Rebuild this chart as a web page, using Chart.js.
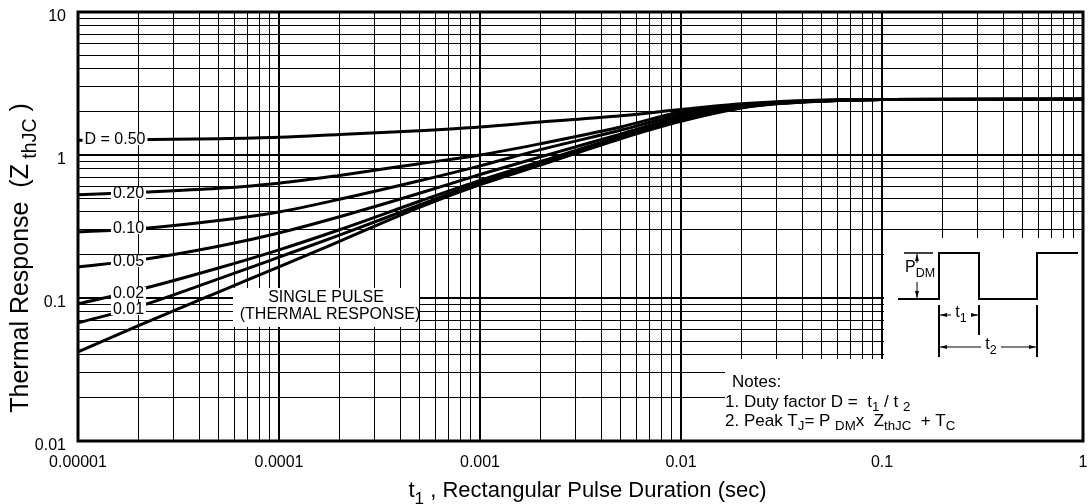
<!DOCTYPE html>
<html><head><meta charset="utf-8">
<script src="https://cdn.jsdelivr.net/npm/chart.js@4.4.0/dist/chart.umd.min.js"></script>
<style>html,body{margin:0;padding:0;background:#fff;}#wrap{width:1089px;height:504px;}</style>
</head><body><div id="wrap"><canvas id="c" width="1089" height="504"></canvas></div>
<script>
// ---- data ----
const durations = [1e-5,2e-5,5e-5,1e-4,2e-4,5e-4,1e-3,2e-3,5e-3,1e-2,2e-2,3e-2,5e-2,1e-1,1];
const d050   = [1.27,1.28,1.30,1.33,1.39,1.48,1.57,1.70,1.88,2.08,2.28,2.36,2.41,2.44,2.45];
const d020   = [0.527,0.548,0.585,0.635,0.72,0.87,1.00,1.20,1.57,2.00,2.24,2.34,2.41,2.44,2.45];
const d010   = [0.290,0.305,0.348,0.40,0.49,0.66,0.84,1.09,1.49,1.92,2.20,2.32,2.40,2.44,2.45];
const d005   = [0.165,0.184,0.230,0.285,0.37,0.54,0.73,0.97,1.40,1.85,2.18,2.31,2.39,2.44,2.45];
const d002   = [0.091,0.114,0.162,0.217,0.30,0.475,0.665,0.90,1.35,1.79,2.16,2.30,2.39,2.44,2.45];
const d001   = [0.067,0.087,0.136,0.193,0.275,0.447,0.64,0.87,1.32,1.76,2.15,2.29,2.38,2.44,2.45];
const single = [0.042,0.064,0.110,0.165,0.249,0.43,0.62,0.85,1.30,1.72,2.13,2.28,2.38,2.44,2.45];
const seriesNames = ['D = 0.50','0.20','0.10','0.05','0.02','0.01','SINGLE PULSE'];
const seriesValues = [d050,d020,d010,d005,d002,d001,single];
const xTickValues = [1e-5,1e-4,1e-3,1e-2,1e-1,1];
const xTickLabels = ['0.00001','0.0001','0.001','0.01','0.1','1'];
const yTickValues = [0.01,0.1,1,10];
const yTickLabels = ['0.01','0.1','1','10'];

const FONT = '"Liberation Sans", Arial, Helvetica, sans-serif';
function isDecade(v){const l=Math.log10(v);return Math.abs(l-Math.round(l))<1e-6;}
function gridValues(lo,hi){const out=[];for(let e=lo;e<hi;e++){for(let m=1;m<10;m++)out.push(m*Math.pow(10,e));}out.push(Math.pow(10,hi));return out;}
const xGrid = gridValues(-5,0);
const yGrid = gridValues(-2,1);

function runs(ctx, parts, x, y, size, align){
  let total=0;
  const ws=parts.map(p=>{ctx.font=(p[1]?size*0.78:size)+'px '+FONT;const w=ctx.measureText(p[0]).width;total+=w;return w;});
  let cx = align==='center'? x-total/2 : x;
  ctx.textAlign='left';
  parts.forEach((p,i)=>{ctx.font=(p[1]?size*0.78:size)+'px '+FONT;ctx.fillText(p[0],cx,y+(p[1]?size*0.32:0));cx+=ws[i];});
  return total;
}

const decor = {
  id:'decor',
  beforeDatasetsDraw(chart){
    const c=chart.ctx, ca=chart.chartArea;
    const X=px=>ca.left+(px-78)*ca.width/1005, Y=py=>ca.top+(py-12)*ca.height/429;
    c.save();
    c.fillStyle='#fff';
    c.fillRect(X(233),Y(288),X(419)-X(233),Y(327)-Y(288));
    c.fillRect(X(884),Y(238),ca.right-X(884),Y(359)-Y(238));
    c.fillRect(X(725),Y(359),ca.right-X(725),ca.bottom-Y(359));
    c.fillStyle='#000';
    c.textBaseline='middle';c.textAlign='center';
    c.font='16px '+FONT;
    c.fillText('SINGLE PULSE',X(326),Y(298));
    c.fillText('(THERMAL RESPONSE)',X(330),Y(315));
    c.textBaseline='middle';
    runs(c,[['Notes:',0]],X(732),Y(382),17,'left');
    runs(c,[['1. Duty factor D =  t',0],['1',1],[' / t ',0],['2',1]],X(725),Y(402),17,'left');
    runs(c,[['2. Peak T',0],['J',1],['= P ',0],['DM',1],['x  Z',0],['thJC',1],['  + T',0],['C',1]],X(725),Y(421),17,'left');
    c.strokeStyle='#000';c.lineWidth=2;
    c.beginPath();
    c.moveTo(X(898),Y(299));c.lineTo(X(939),Y(299));c.lineTo(X(939),Y(253));c.lineTo(X(979),Y(253));
    c.lineTo(X(979),Y(299));c.lineTo(X(1037),Y(299));c.lineTo(X(1037),Y(253));c.lineTo(X(1078),Y(253));
    c.stroke();
    c.lineWidth=1.5;
    c.beginPath();c.moveTo(X(904),Y(253));c.lineTo(X(933),Y(253));c.stroke();
    c.lineWidth=2;
    c.beginPath();
    c.moveTo(X(939),Y(305));c.lineTo(X(939),Y(357));
    c.moveTo(X(979),Y(305));c.lineTo(X(979),Y(335));
    c.moveTo(X(1037),Y(305));c.lineTo(X(1037),Y(357));
    c.stroke();
    c.lineWidth=1;
    c.beginPath();
    c.moveTo(X(917),Y(254));c.lineTo(X(917),Y(263));
    c.moveTo(X(917),Y(282));c.lineTo(X(917),Y(298));
    c.moveTo(X(940),Y(315));c.lineTo(X(951),Y(315));
    c.moveTo(X(971),Y(315));c.lineTo(X(978),Y(315));
    c.moveTo(X(940),Y(347));c.lineTo(X(981),Y(347));
    c.moveTo(X(1001),Y(347));c.lineTo(X(1036),Y(347));
    c.stroke();
    const tri=(x1,y1,x2,y2,x3,y3)=>{c.beginPath();c.moveTo(x1,y1);c.lineTo(x2,y2);c.lineTo(x3,y3);c.closePath();c.fill();};
    tri(X(917),Y(254),X(915),Y(261),X(919),Y(261));
    tri(X(917),Y(298),X(915),Y(291),X(919),Y(291));
    tri(X(940),Y(315),X(947),Y(313),X(947),Y(317));
    tri(X(978),Y(315),X(971),Y(313),X(971),Y(317));
    tri(X(940),Y(347),X(947),Y(345),X(947),Y(349));
    tri(X(1036),Y(347),X(1029),Y(345),X(1029),Y(349));
    c.textBaseline='middle';
    runs(c,[['P',0],['DM',1]],X(920),Y(268),16,'center');
    runs(c,[['t',0],['1',1]],X(961),Y(313),16,'center');
    runs(c,[['t',0],['2',1]],X(991),Y(345),16,'center');
    c.restore();
  },
  afterDatasetsDraw(chart){
    const c=chart.ctx, ca=chart.chartArea;
    const X=px=>ca.left+(px-78)*ca.width/1005, Y=py=>ca.top+(py-12)*ca.height/429;
    c.save();
    c.font='16px '+FONT;c.textBaseline='middle';c.textAlign='center';
    const lab=[[seriesNames[0],115,139],[seriesNames[1],128.5,193],[seriesNames[2],128.5,228],[seriesNames[3],128.5,261],[seriesNames[4],128.5,293],[seriesNames[5],128.5,309]];
    lab.forEach(([t,x,y])=>{
      const w=c.measureText(t).width;
      c.fillStyle='#fff';c.fillRect(X(x)-w/2-2,Y(y)-6,w+4,12);
      c.fillStyle='#000';c.fillText(t,X(x),Y(y)+1);
    });
    c.restore();
  },
  afterDraw(chart){
    const c=chart.ctx, ca=chart.chartArea;
    const xs=chart.scales.x, ys=chart.scales.y;
    c.save();
    c.strokeStyle='#000';c.lineWidth=3;
    c.strokeRect(ca.left,ca.top,ca.right-ca.left,ca.bottom-ca.top);
    c.fillStyle='#000';
    c.font='16px '+FONT;c.textBaseline='middle';c.textAlign='center';
    xTickValues.forEach((v,i)=>c.fillText(xTickLabels[i],xs.getPixelForValue(v),ca.bottom+22));
    c.textAlign='right';
    yTickValues.forEach((v,i)=>c.fillText(yTickLabels[i],ca.left-12,ys.getPixelForValue(v)+4.5));
    c.textBaseline='alphabetic';
    runs(c,[['t',0],['1',1],[' , Rectangular Pulse Duration (sec)',0]],(ca.left+ca.right)/2+7,497,22,'center');
    c.translate(28,258);c.rotate(-Math.PI/2);
    runs(c,[['Thermal Response  (Z',0],[' thJC',1],[' )',0]],0,0,25,'center');
    c.restore();
  }
};

new Chart(document.getElementById('c'),{
  type:'line',
  data:{datasets:seriesValues.map((vals,i)=>({
    label:seriesNames[i],
    data:durations.map((x,j)=>({x:x,y:vals[j]})),
    borderColor:'#000',borderWidth:3,pointRadius:0,fill:false,
    cubicInterpolationMode:'monotone'
  }))},
  options:{
    responsive:false,animation:false,devicePixelRatio:1,
    layout:{padding:{top:12,right:6,left:0,bottom:0}},
    plugins:{legend:{display:false},tooltip:{enabled:false}},
    scales:{
      x:{type:'logarithmic',min:1e-5,max:1,
        afterBuildTicks:s=>{s.ticks=xGrid.map(v=>({value:v}));},
        afterFit:s=>{s.height=63;s.paddingLeft=0;s.paddingRight=0;},
        border:{display:false},
        grid:{color:'#000',lineWidth:c=>(c.tick&&isDecade(c.tick.value))?2:1,drawTicks:false},
        ticks:{display:false,autoSkip:false,callback:()=>''}
      },
      y:{type:'logarithmic',min:0.01,max:10,
        afterBuildTicks:s=>{s.ticks=yGrid.map(v=>({value:v}));},
        afterFit:s=>{s.width=78;s.paddingTop=0;s.paddingBottom=0;},
        border:{display:false},
        grid:{color:'#000',lineWidth:c=>(c.tick&&isDecade(c.tick.value))?2:1,drawTicks:false},
        ticks:{display:false,autoSkip:false,callback:()=>''}
      }
    }
  },
  plugins:[decor]
});
</script></body></html>
